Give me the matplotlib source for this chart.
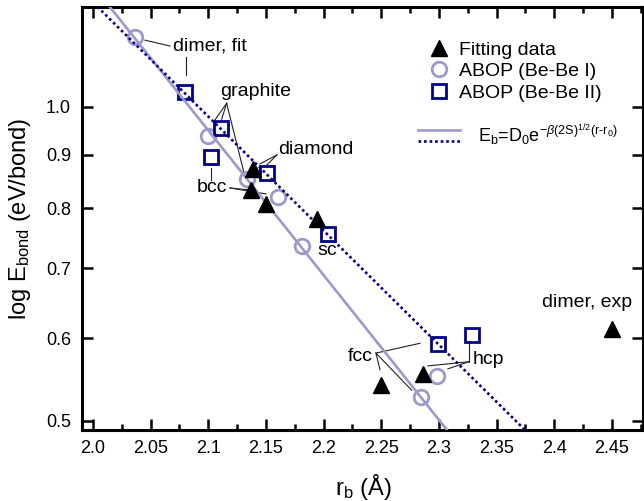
import numpy as np
import matplotlib
matplotlib.use("Agg")
import matplotlib.pyplot as plt
from matplotlib.ticker import FixedLocator, NullLocator, MultipleLocator, FixedFormatter
from matplotlib.lines import Line2D

plt.rcParams['font.family'] = ['Liberation Sans', 'DejaVu Sans']
plt.rcParams['mathtext.fontset'] = 'custom'
plt.rcParams['mathtext.rm'] = 'Liberation Sans'
plt.rcParams['mathtext.it'] = 'Liberation Sans:italic'
plt.rcParams['mathtext.bf'] = 'Liberation Sans:bold'
plt.rcParams['mathtext.default'] = 'regular'

# ---- data ----
fit_r = [2.4503, 2.2500, 2.2864, 2.1945, 2.1367, 2.1500, 2.1385]
fit_E = [0.612, 0.541, 0.555, 0.780, 0.833, 0.807, 0.872]
abop1_r = [2.0364, 2.0994, 2.1338, 2.1607, 2.1810, 2.2985, 2.2844]
abop1_E = [1.167, 0.938, 0.853, 0.819, 0.735, 0.552, 0.527]
abop2_r = [2.0798, 2.1110, 2.1020, 2.1506, 2.2040, 2.2994, 2.3283]
abop2_E = [1.034, 0.954, 0.896, 0.865, 0.756, 0.593, 0.604]

# Pauling relation parameters E_b = D0 exp(-beta sqrt(2S) (r - r0))
be1_D0, be1_r0, be1_beta, be1_S = 1.1635, 2.0364, 1.3144, 2.956
be2_D0, be2_r0, be2_beta, be2_S = 1.035, 2.078, 1.300, 1.88

xticks = [2.0, 2.05, 2.1, 2.15, 2.2, 2.25, 2.3, 2.35, 2.4, 2.45]
xticklabels = ['2.0', '2.05', '2.1', '2.15', '2.2', '2.25', '2.3', '2.35', '2.4', '2.45']
yticks = [0.5, 0.6, 0.7, 0.8, 0.9, 1.0]
yticklabels = ['0.5', '0.6', '0.7', '0.8', '0.9', '1.0']

# annotation labels (text, x, y) and leader segments
labels = [("dimer, fit", 2.0694, 1.144),
          ("graphite", 2.1101, 1.034),
          ("diamond", 2.1604, 0.9094),
          ("bcc", 2.0902, 0.8362),
          ("sc", 2.1942, 0.7277),
          ("hcp", 2.3295, 0.5723),
          ("dimer, exp", 2.3893, 0.6489)]
fcc_label = ("fcc", 2.2428, 0.576)
leaders = [((2.0451, 1.159), (2.0668, 1.144)),
           ((2.0806, 1.117), (2.0806, 1.073)),
           ((2.1159, 1.0082), (2.1058, 0.9717)),
           ((2.1159, 1.0082), (2.1116, 0.9732)),
           ((2.1159, 1.0082), (2.1318, 0.8574)),
           ((2.1595, 0.8995), (2.1448, 0.8817)),
           ((2.1595, 0.8995), (2.1491, 0.8759)),
           ((2.1188, 0.8362), (2.1361, 0.8325)),
           ((2.1188, 0.8362), (2.1500, 0.8253)),
           ((2.1023, 0.8740), (2.1023, 0.8510)),
           ((2.2454, 0.5807), (2.2835, 0.5934)),
           ((2.2454, 0.5807), (2.2489, 0.5597)),
           ((2.2454, 0.5807), (2.2763, 0.5351)),
           ((2.3260, 0.5934), (2.3260, 0.5697)),
           ((2.3260, 0.5697), (2.2905, 0.5645)),
           ((2.3260, 0.5697), (2.3078, 0.5609))]

c1 = '#9a9acb'
c2 = '#000088'

fig = plt.figure(figsize=(6.44, 5.01), dpi=100)
ax = fig.add_axes([82/644, 1-430/501, (642.5-82)/644, (430-7)/501])

ax.set_yscale('log')
ax.set_xlim(1.9905, 2.4765)
ax.set_ylim(0.490, 1.247)

r = np.linspace(1.95, 2.5, 400)
E1 = be1_D0*np.exp(-be1_beta*np.sqrt(2*be1_S)*(r-be1_r0))
E2 = be2_D0*np.exp(-be2_beta*np.sqrt(2*be2_S)*(r-be2_r0))
ax.plot(r, E1, color=c1, lw=1.9, zorder=3)
ax.plot(r, E2, color=c2, lw=1.9, linestyle=(0, (1, 1.1)), zorder=3)

ax.plot(abop1_r, abop1_E, linestyle='none', marker='o', ms=10.5, mfc='none',
        mec=c1, mew=2.0, zorder=2)
ax.plot(abop2_r, abop2_E, linestyle='none', marker='s', ms=10.5, mfc='none',
        mec=c2, mew=2.0, zorder=2)
ax.plot(fit_r, fit_E, linestyle='none', marker='^', ms=11, color='black', zorder=4)

for (a, b) in leaders:
    ax.plot([a[0], b[0]], [a[1], b[1]], color='#222222', lw=0.8, zorder=1)
for t, x, y in labels:
    ax.text(x, y, t, fontsize=14, ha='left', va='center')
ax.text(fcc_label[1], fcc_label[2], fcc_label[0], fontsize=14, ha='right', va='center')

# ticks
ax.xaxis.set_major_locator(FixedLocator(xticks))
ax.xaxis.set_major_formatter(FixedFormatter(xticklabels))
ax.xaxis.set_minor_locator(MultipleLocator(0.025))
ax.yaxis.set_major_locator(FixedLocator(yticks))
ax.yaxis.set_major_formatter(FixedFormatter(yticklabels))
ax.yaxis.set_minor_locator(NullLocator())
ax.tick_params(which='both', direction='in', top=True, right=True, labelsize=13)
ax.tick_params(which='major', length=8, width=1.8)
ax.tick_params(which='minor', length=4, width=1.8)
ax.tick_params(axis='y', pad=8)
ax.tick_params(axis='x', pad=7)
for s in ax.spines.values():
    s.set_linewidth(2.2)

ax.set_xlabel(r'r$_\mathrm{b}$ (Å)', fontsize=17, va='center')
ax.set_ylabel(r'log E$_\mathrm{bond}$ (eV/bond)', fontsize=17, va='center')
ax.xaxis.set_label_coords(0.5013, -0.135)
ax.yaxis.set_label_coords(-0.111, 0.5)

# legend
h1 = Line2D([], [], linestyle='none', marker='^', ms=11, color='black')
h2 = Line2D([], [], linestyle='none', marker='o', ms=10.5, mfc='none', mec=c1, mew=2.0)
h3 = Line2D([], [], linestyle='none', marker='s', ms=10.5, mfc='none', mec=c2, mew=2.0)
ax.legend([h1, h2, h3], ['Fitting data', 'ABOP (Be-Be I)', 'ABOP (Be-Be II)'],
          loc='upper left', bbox_to_anchor=(0.6196, 0.9196), frameon=False,
          fontsize=14, handlelength=1.0, handletextpad=0.53, labelspacing=0.2,
          borderpad=0, borderaxespad=0)
ax.plot([0.5995, 0.6744], [0.7092, 0.7092], transform=ax.transAxes, color=c1, lw=1.9)
ax.plot([0.5995, 0.6744], [0.6832, 0.6832], transform=ax.transAxes, color=c2, lw=1.9,
        linestyle=(0, (1, 1.1)))
ax.text(0.7065, 0.6809, r'E$_\mathrm{b}$=D$_0$e$^{-\mathit{\beta}(2S)^{1/2}(r\text{-}r_0)}$',
        transform=ax.transAxes, fontsize=13, ha='left', va='baseline')

fig.savefig('out.png', dpi=100)
